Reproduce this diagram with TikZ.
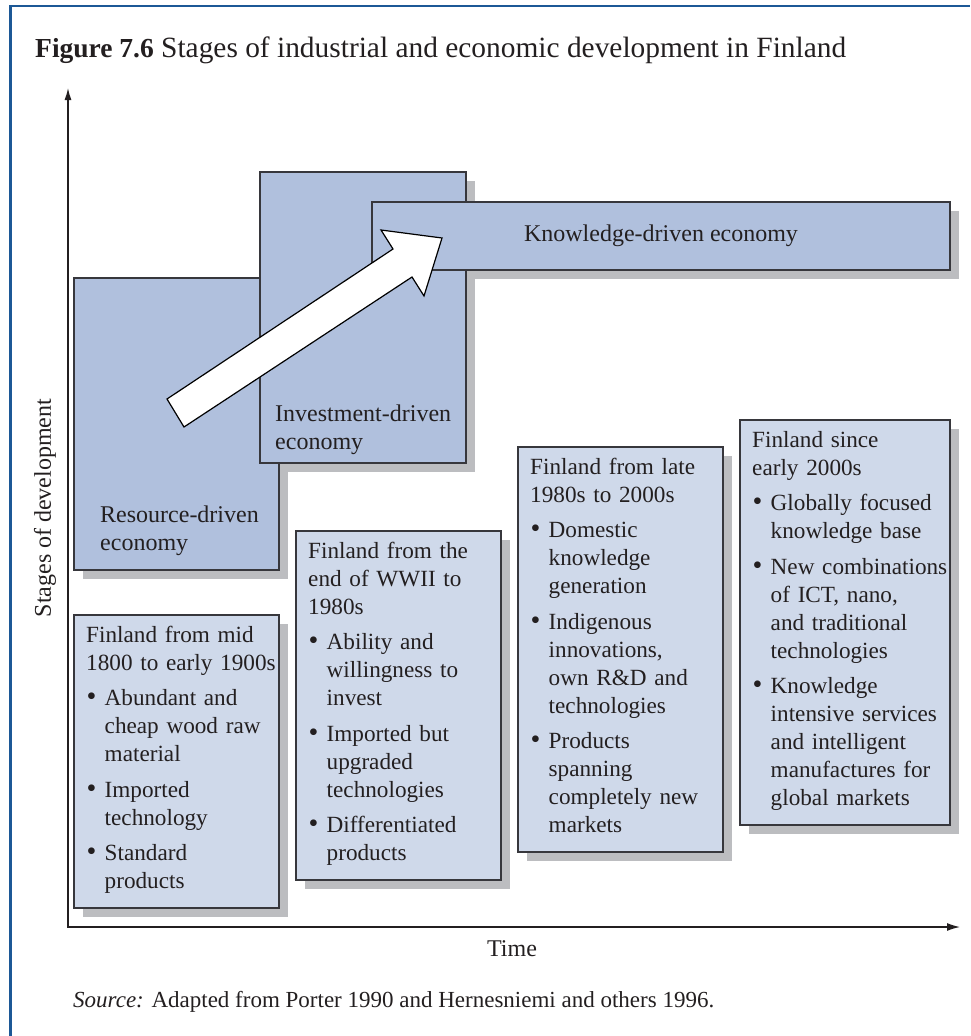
\documentclass[tikz,border=0pt]{standalone}
\usepackage{fontspec}
\setmainfont{Liberation Serif}
\usetikzlibrary{arrows.meta,calc}
\definecolor{frameblue}{RGB}{28,88,150}
\definecolor{midfill}{RGB}{176,192,221}
\definecolor{lightfill}{RGB}{207,217,234}
\definecolor{shadowgray}{RGB}{188,189,192}
\definecolor{edgegray}{RGB}{55,55,60}
\definecolor{inkc}{RGB}{35,31,32}
\newcommand{\bitem}[1]{\par\vspace{7.5pt}\hangindent=18.5pt\hangafter=1\noindent\makebox[18.5pt][l]{\hspace{0.5pt}{\fontsize{28}{28}\selectfont\textbullet}}#1\par}
\tikzset{
  shadowbox/.style={fill=shadowgray, draw=none, inner sep=0pt, outer sep=0pt, anchor=north west},
  stagebox/.style={fill=midfill, draw=edgegray, line width=1.2pt, inner sep=0pt, outer sep=0pt, anchor=north west},
  periodbox/.style={fill=lightfill, draw=edgegray, line width=1.2pt, inner sep=0pt, outer sep=0pt, anchor=north west},
  boxtext/.style={anchor=base west, inner sep=0pt, text width=240pt, font=\fontsize{23.2}{28}\selectfont, text=inkc},
  stagetext/.style={anchor=base west, inner sep=0pt, text width=240pt, font=\fontsize{24}{28}\selectfont, text=inkc},
  plaintext/.style={inner sep=0pt, font=\fontsize{24}{28}\selectfont, text=inkc},
  axisline/.style={draw=inkc, line width=1.3pt},
  bigarrow/.style={fill=white, draw=black, line width=1.2pt, line join=miter},
}
\begin{document}
\begin{tikzpicture}[x=1pt,y=-1pt]
\useasboundingbox (0,0) rectangle (970,1036);
% frame
\coordinate (fb) at (10.5,1036);
\coordinate (fc) at (10.5,6);
\coordinate (fr) at (970,6);
\draw[frameblue, line width=2.6pt] (fb) -- (fc) -- (fr);
% title
\node[anchor=base west, inner sep=0pt, font=\fontsize{29.4}{32}\selectfont, text=inkc] (title) at (35,57)
  {{\fontsize{27.5}{32}\selectfont\textbf{Figure 7.6}} Stages of industrial and economic development in Finland};
% axes
\coordinate (ytop) at (68,88);
\coordinate (orig) at (68,927);
\coordinate (xend) at (960,927);
\draw[axisline, {Latex[length=12pt,width=7pt]}-{Latex[length=13pt,width=8pt]}] (ytop) -- (orig) -- (xend);
\node[plaintext, rotate=90] (ylab) at (45,508) {Stages of development};
\node[plaintext] (xlab) at (512,949) {Time};
% shadows
\node[shadowbox, minimum width=205pt, minimum height=292pt] (Rs) at (83,287) {};
\node[shadowbox, minimum width=206pt, minimum height=291pt] (Is) at (269,181) {};
\node[shadowbox, minimum width=578pt, minimum height=68pt] (Ks) at (381,211) {};
\node[shadowbox, minimum width=205pt, minimum height=293pt] (P1s) at (83,624) {};
\node[shadowbox, minimum width=205pt, minimum height=349pt] (P2s) at (305,540) {};
\node[shadowbox, minimum width=205pt, minimum height=405pt] (P3s) at (527,456) {};
\node[shadowbox, minimum width=210pt, minimum height=405pt] (P4s) at (749,429) {};
% stage boxes
\node[stagebox, minimum width=205pt, minimum height=292pt] (R) at (74,278) {};
\node[stagebox, minimum width=206pt, minimum height=291pt] (I) at (260,172) {};
\node[stagebox, minimum width=578pt, minimum height=68pt] (K) at (372,202) {};
% arrow
\coordinate (a1) at (167,399);
\coordinate (a2) at (393,249);
\coordinate (a3) at (381,230);
\coordinate (a4) at (442,238);
\coordinate (a5) at (424,296);
\coordinate (a6) at (412,277);
\coordinate (a7) at (184,427);
\draw[bigarrow] (a1) -- (a2) -- (a3) -- (a4) -- (a5) -- (a6) -- (a7) -- cycle;
% stage labels
\node[plaintext] (Kt) at (K.center) {Knowledge-driven economy};
\node[stagetext] (It) at (275,421) {Investment-driven\newline economy};
\node[stagetext] (Rt) at (100,522) {Resource-driven\newline economy};
% period boxes
\node[periodbox, minimum width=205pt, minimum height=293pt] (P1) at (74,615) {};
\node[periodbox, minimum width=205pt, minimum height=349pt] (P2) at (296,531) {};
\node[periodbox, minimum width=205pt, minimum height=405pt] (P3) at (518,447) {};
\node[periodbox, minimum width=210pt, minimum height=405pt] (P4) at (740,420) {};
\node[boxtext] (P1t) at (86,642) {Finland from mid\newline 1800 to early 1900s
  \bitem{Abundant and\newline cheap wood raw\newline material}
  \bitem{Imported\newline technology}
  \bitem{Standard\newline products}};
\node[boxtext] (P2t) at (308,558) {Finland from the\newline end of WWII to\newline 1980s
  \bitem{Ability and\newline willingness to\newline invest}
  \bitem{Imported but\newline upgraded\newline technologies}
  \bitem{Differentiated\newline products}};
\node[boxtext] (P3t) at (530,474) {Finland from late\newline 1980s to 2000s
  \bitem{Domestic\newline knowledge\newline generation}
  \bitem{Indigenous\newline innovations,\newline own R\&D and\newline technologies}
  \bitem{Products\newline spanning\newline completely new\newline markets}};
\node[boxtext] (P4t) at (752,447) {Finland since\newline early 2000s
  \bitem{Globally focused\newline knowledge base}
  \bitem{New combinations\newline of ICT, nano,\newline and traditional\newline technologies}
  \bitem{Knowledge\newline intensive services\newline and intelligent\newline manufactures for\newline global markets}};
% source
\node[anchor=base west, inner sep=0pt, font=\fontsize{23}{26}\selectfont, text=inkc] (src) at (73,1007)
  {\textit{Source:} Adapted from Porter 1990 and Hernesniemi and others 1996.};
\end{tikzpicture}
\end{document}
